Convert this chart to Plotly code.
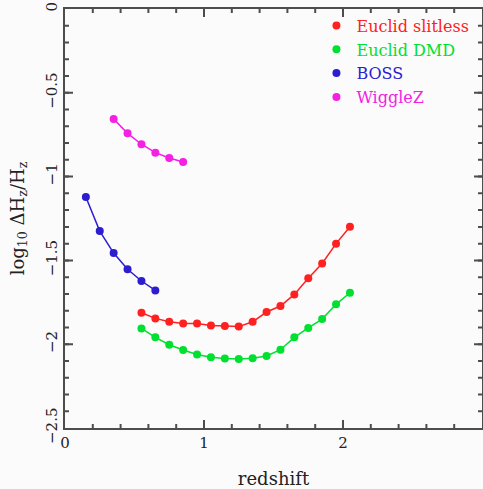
import plotly.graph_objects as go

# Data
z_euclid = [0.55, 0.65, 0.75, 0.85, 0.95, 1.05, 1.15, 1.25, 1.35, 1.45, 1.55, 1.65, 1.75, 1.85, 1.95, 2.05]
slitless = [-1.812, -1.846, -1.866, -1.876, -1.876, -1.888, -1.891, -1.895, -1.866, -1.808, -1.772, -1.703, -1.607, -1.518, -1.400, -1.299]
dmd = [-1.906, -1.959, -2.003, -2.035, -2.061, -2.078, -2.086, -2.088, -2.084, -2.070, -2.033, -1.959, -1.903, -1.850, -1.762, -1.693]
z_boss = [0.15, 0.25, 0.35, 0.45, 0.55, 0.65]
boss = [-1.122, -1.325, -1.456, -1.553, -1.623, -1.679]
z_wigglez = [0.35, 0.45, 0.55, 0.65, 0.75, 0.85]
wigglez = [-0.656, -0.742, -0.807, -0.857, -0.889, -0.913]

series = [
    ("Euclid slitless", z_euclid, slitless, "#ff2020"),
    ("Euclid DMD", z_euclid, dmd, "#00e030"),
    ("BOSS", z_boss, boss, "#2c1ed0"),
    ("WiggleZ", z_wigglez, wigglez, "#f420e4"),
]

x_ticks = [0, 1, 2]
y_ticks = [0, -0.5, -1, -1.5, -2, -2.5]
y_ticktext = ["0", "\u22120.5", "\u22121", "\u22121.5", "\u22122", "\u22122.5"]

FONT = "DejaVu Serif"
LC = "#4d4d4d"

fig = go.Figure()
for name, x, y, c in series:
    fig.add_trace(go.Scatter(x=x, y=y, mode="lines", line=dict(color=c, width=1.5),
                             legendgroup=name, showlegend=False, hoverinfo="skip"))
    fig.add_trace(go.Scatter(x=x, y=y, mode="markers", marker=dict(color=c, size=8),
                             legendgroup=name, showlegend=True,
                             name=f"<span style='color:{c}'>{name}</span>"))

axis_common = dict(showline=True, linecolor=LC, linewidth=2, mirror="allticks",
                   ticks="inside", ticklen=8, tickcolor=LC, tickwidth=1.5,
                   showgrid=False, zeroline=False,
                   tickfont=dict(family=FONT, size=15, color="#222222"))

fig.update_layout(
    width=483, height=489,
    margin=dict(l=65, r=1, t=9, b=61, autoexpand=False),
    paper_bgcolor="#fbfbfb", plot_bgcolor="#fbfbfb",
    font=dict(family=FONT, color="#222222"),
    xaxis=dict(range=[0, 3], tickvals=x_ticks, ticktext=["0", "1", "2"],
               minor=dict(dtick=0.2, tick0=0, ticks="inside", ticklen=4, tickcolor=LC, tickwidth=1.5),
               title=dict(text="redshift", font=dict(family=FONT, size=18), standoff=24),
               **axis_common),
    yaxis=dict(range=[-2.5, 0], tickvals=y_ticks, ticktext=y_ticktext,
               tickangle=-90,
               minor=dict(dtick=0.1, tick0=0, ticks="inside", ticklen=4, tickcolor=LC, tickwidth=1.5),
               title=dict(text="log<sub>10</sub> \u0394H<sub>z</sub>/H<sub>z</sub>",
                          font=dict(family=FONT, size=18), standoff=14),
               **axis_common),
    legend=dict(x=0.603, y=1.001, xanchor="left", yanchor="top", bgcolor="rgba(0,0,0,0)",
                font=dict(family=FONT, size=16), itemwidth=30, tracegroupgap=0),
)

js = """
document.body.style.margin='0';
function fixEdges(){
  document.querySelectorAll('path, line, rect').forEach(function(e){
    e.style.shapeRendering='geometricPrecision';
    e.removeAttribute('shape-rendering');
  });
}
fixEdges();
var gd = document.getElementById('{plot_id}');
if (gd && gd.on) { gd.on('plotly_afterplot', fixEdges); }
setTimeout(fixEdges, 50);
setTimeout(fixEdges, 300);
"""
fig.write_html("out.html", post_script=js, config={"displayModeBar": False})
